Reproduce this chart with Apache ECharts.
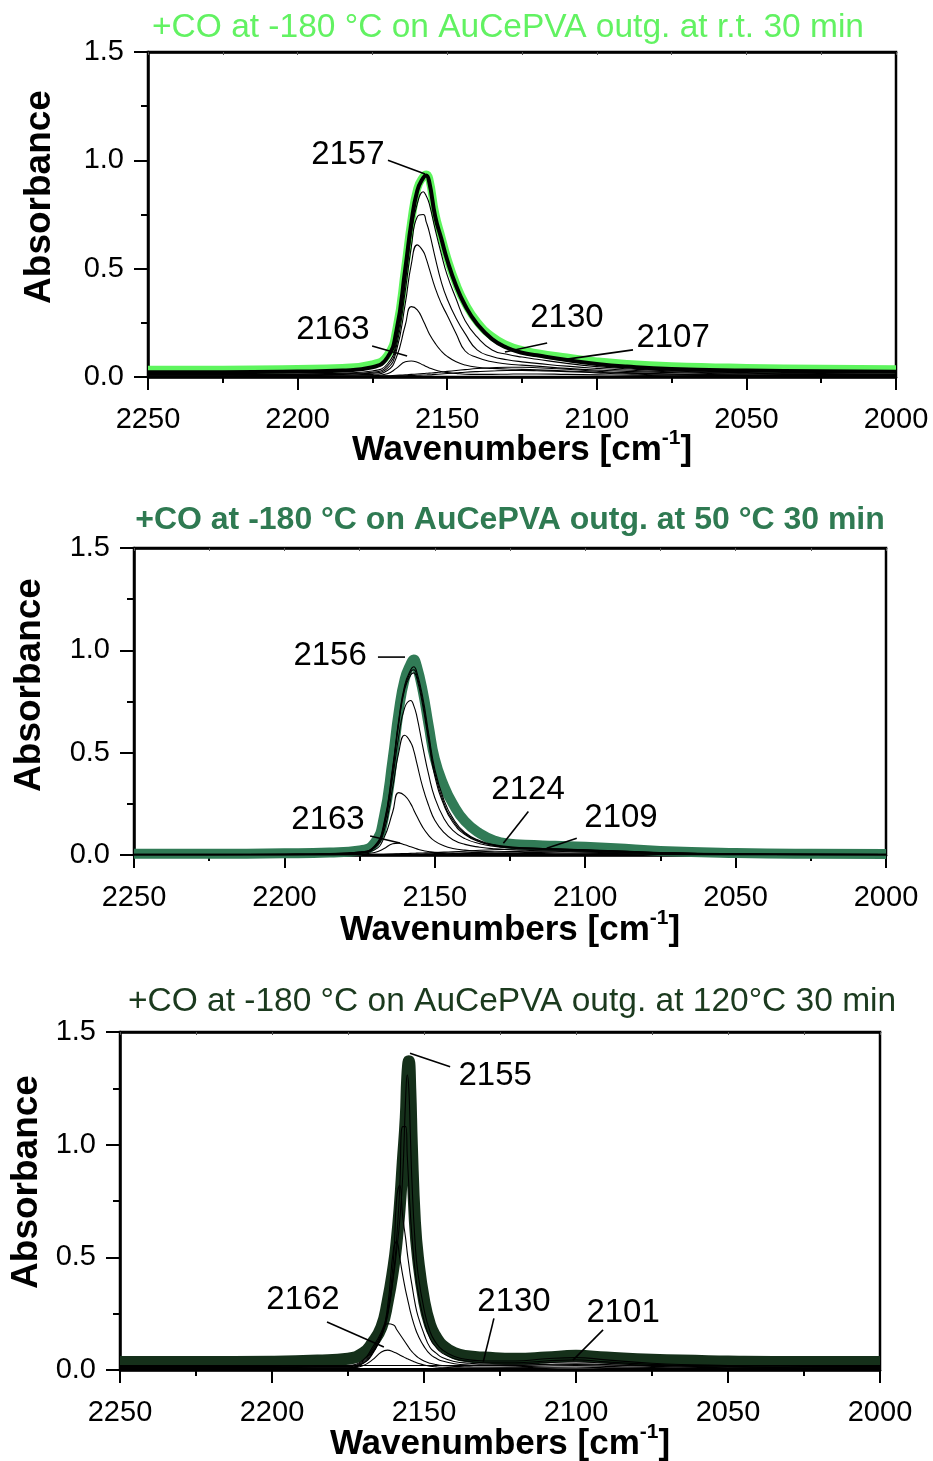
<!DOCTYPE html>
<html>
<head>
<meta charset="utf-8">
<script src="https://cdn.jsdelivr.net/npm/echarts@6.0.0/dist/echarts.min.js"></script>
<style>
html, body { margin: 0; padding: 0; background: #fff; }
#main { width: 933px; height: 1461px; }
</style>
</head>
<body>
<div id="main"></div>
<script>
var FONT = '"Liberation Sans", Arial, sans-serif';

// wavenumber grids (cm-1)
var wn1 = [2250, 2225, 2200, 2185, 2175, 2170, 2167, 2164, 2162, 2160, 2158, 2157, 2156, 2154, 2152, 2150, 2147, 2144, 2140, 2135, 2130, 2125, 2120, 2110, 2100, 2090, 2075, 2050, 2025, 2000];
var wn3 = [2250, 2225, 2200, 2185, 2175, 2170, 2167, 2164, 2162, 2160, 2159, 2158, 2157, 2156, 2155.5, 2155, 2154.5, 2154, 2153, 2152, 2150, 2148, 2146, 2144, 2140, 2135, 2130, 2120, 2110, 2100, 2090, 2075, 2050, 2025, 2000];

// panel 1 : outg. at r.t.
var p1Green = [.034, .034, .037, .042, .058, .10, .22, .51, .72, .87, .925, .935, .915, .755, .65, .55, .43, .34, .255, .187, .147, .124, .11, .09, .072, .06, .05, .042, .038, .036];
var p1Bold = [.022, .022, .025, .03, .045, .09, .21, .50, .71, .86, .92, .93, .90, .74, .64, .54, .42, .33, .245, .175, .135, .112, .1, .078, .06, .048, .037, .03, .026, .024];
var p1A = [.012, .012, .014, .018, .028, .06, .16, .44, .66, .80, .855, .835, .80, .68, .57, .47, .36, .26, .185, .125, .105, .092, .082, .063, .048, .038, .028, .02, .016, .014];
var p1B = [.01, .01, .012, .015, .022, .05, .14, .40, .60, .74, .75, .715, .67, .55, .44, .36, .27, .20, .125, .095, .08, .07, .063, .05, .04, .032, .024, .017, .013, .011];
var p1C = [.009, .009, .01, .012, .018, .04, .12, .34, .52, .61, .58, .545, .50, .41, .34, .285, .20, .12, .09, .07, .06, .055, .05, .04, .032, .026, .02, .014, .011, .01];
var p1D = [.006, .006, .007, .009, .012, .03, .09, .24, .325, .31, .26, .23, .20, .155, .12, .095, .07, .055, .045, .04, .037, .035, .033, .028, .022, .018, .014, .01, .008, .007];
var p1E = [.004, .004, .004, .004, .005, .015, .04, .07, .074, .068, .055, .048, .042, .032, .025, .02, .016, .013, .012, .012, .013, .014, .014, .012, .01, .008, .006, .005, .004, .004];
var p1F = [.003, .003, .003, .004, .005, .006, .008, .01, .012, .014, .016, .017, .018, .02, .023, .026, .03, .034, .039, .043, .045, .045, .043, .036, .027, .02, .013, .008, .006, .005];
var p1G = [.002, .002, .002, .003, .003, .004, .005, .006, .007, .008, .009, .0095, .01, .012, .014, .016, .019, .022, .025, .028, .03, .03, .029, .025, .019, .014, .009, .005, .004, .003];
var p1H = [.001, .001, .001, .001, .001, .001, .001, .001, .001, .001, .001, .001, .001, .001, .001, .001, .001, .001, .001, .001, .001, .001, .001, .001, .001, .001, .001, .001, .001, .001];

// panel 2 : outg. at 50 °C
var p2Green = [.006, .006, .008, .012, .022, .06, .18, .47, .70, .86, .935, .955, .925, .80, .63, .47, .34, .25, .165, .105, .07, .055, .05, .045, .04, .033, .02, .01, .006, .005];
var p2A = [.003, .003, .004, .007, .015, .045, .15, .43, .66, .83, .905, .92, .895, .77, .59, .42, .27, .18, .11, .07, .05, .04, .035, .03, .025, .02, .012, .006, .004, .003];
var p2B = [.003, .003, .004, .006, .014, .042, .14, .42, .65, .82, .895, .905, .88, .75, .57, .40, .255, .17, .105, .066, .048, .038, .034, .029, .024, .019, .011, .005, .004, .003];
var p2C = [.002, .002, .003, .005, .013, .04, .135, .41, .64, .81, .88, .89, .865, .73, .55, .385, .245, .16, .10, .063, .046, .037, .033, .028, .023, .018, .011, .005, .003, .002];
var p2D = [.002, .002, .003, .005, .012, .04, .13, .38, .58, .72, .755, .73, .68, .53, .39, .28, .18, .12, .08, .055, .042, .035, .03, .025, .02, .015, .01, .005, .003, .002];
var p2E = [.002, .002, .002, .004, .01, .035, .11, .33, .50, .585, .55, .51, .45, .33, .24, .17, .11, .075, .052, .038, .03, .026, .023, .018, .014, .011, .007, .004, .002, .002];
var p2F = [.001, .001, .002, .003, .008, .025, .08, .21, .305, .29, .25, .22, .19, .135, .095, .068, .045, .032, .024, .018, .015, .014, .013, .011, .009, .007, .005, .003, .002, .001];
var p2G = [.001, .001, .001, .002, .004, .012, .03, .055, .058, .05, .04, .035, .03, .022, .017, .013, .01, .008, .007, .007, .007, .007, .007, .006, .005, .004, .003, .002, .001, .001];
var p2H = [.001, .001, .001, .002, .002, .003, .004, .005, .006, .007, .008, .0085, .009, .01, .011, .012, .014, .016, .019, .023, .026, .028, .03, .029, .024, .018, .011, .005, .003, .002];
var p2I = [.001, .001, .001, .001, .001, .002, .002, .003, .003, .004, .004, .0045, .005, .005, .006, .007, .008, .009, .011, .013, .015, .017, .018, .02, .018, .014, .009, .004, .002, .001];
var p2J = [0, 0, 0, 0, 0, 0, 0, 0, 0, 0, 0, 0, 0, 0, 0, 0, 0, 0, 0, 0, 0, 0, 0, 0, 0, 0, 0, 0, 0, 0];

// panel 3 : outg. at 120 °C
var p3Bold = [.035, .035, .037, .042, .05, .075, .12, .19, .30, .46, .57, .72, .92, 1.12, 1.3, 1.37, 1.24, 1.0, .66, .5, .31, .2, .145, .11, .075, .06, .055, .05, .055, .063, .055, .045, .038, .035, .035];
var p3A = [.015, .015, .016, .018, .02, .045, .1, .17, .25, .42, .53, .66, .86, 1.22, 1.31, 1.25, 1.05, .85, .58, .43, .27, .17, .12, .09, .06, .045, .04, .04, .05, .055, .045, .03, .02, .016, .015];
var p3B = [.012, .012, .013, .015, .015, .04, .09, .16, .24, .43, .58, .80, 1.08, 1.08, .95, .82, .70, .60, .45, .35, .22, .14, .10, .075, .05, .038, .032, .032, .04, .045, .036, .025, .016, .013, .012];
var p3C = [.01, .01, .011, .012, .012, .035, .08, .15, .25, .50, .76, .82, .68, .58, .52, .47, .42, .38, .30, .24, .16, .10, .075, .055, .038, .03, .026, .026, .032, .036, .03, .02, .013, .01, .01];
var p3D = [.008, .008, .009, .01, .01, .03, .075, .15, .28, .54, .57, .50, .42, .35, .32, .29, .26, .235, .19, .155, .105, .07, .052, .04, .028, .022, .02, .02, .025, .028, .024, .016, .01, .008, .008];
var p3E = [.006, .006, .006, .007, .008, .03, .07, .15, .205, .2, .18, .16, .14, .12, .11, .10, .09, .082, .068, .056, .04, .03, .024, .02, .016, .014, .013, .014, .018, .02, .016, .011, .007, .006, .006];
var p3F = [.004, .004, .004, .004, .005, .02, .045, .08, .088, .08, .074, .067, .06, .053, .05, .047, .044, .041, .035, .03, .022, .017, .014, .012, .01, .009, .009, .01, .012, .013, .01, .007, .005, .004, .004];
var p3G = [.02, .02, .02, .02, .02, .02, .02, .02, .02, .02, .02, .02, .02, .02, .02, .02, .02, .02, .02, .02, .02, .02, .02, .02, .02, .02, .02, .021, .023, .024, .022, .02, .02, .02, .02];
var p3H = [.006, .006, .006, .006, .006, .006, .006, .006, .006, .006, .006, .006, .006, .006, .006, .006, .006, .006, .006, .006, .006, .006, .006, .006, .006, .006, .006, .006, .007, .008, .007, .006, .006, .006, .006];

var titles = [
    '+CO at -180 °C on AuCePVA outg. at r.t. 30 min',
    '+CO at -180 °C on AuCePVA outg. at 50 °C 30 min',
    '+CO at -180 °C on AuCePVA outg. at 120°C 30 min'
];

// peak labels: [text, label x, label y, line from x, y, line to x, y] in data units
var notes1 = [
    ['2157', 2183.2, 1.024, 2169.8, 1.0, 2157.4, 0.937],
    ['2163', 2188.2, 0.217, 2175.1, 0.143, 2163.4, 0.097],
    ['2130', 2110, 0.272, 2116.6, 0.157, 2130.7, 0.115],
    ['2107', 2074.5, 0.18, 2087.9, 0.125, 2112.3, 0.078]
];
var notes2 = [
    ['2156', 2184.8, 0.972, 2168.9, 0.967, 2159.9, 0.967],
    ['2163', 2185.5, 0.171, 2171.5, 0.093, 2161.6, 0.059],
    ['2124', 2119, 0.318, 2118.9, 0.212, 2127.2, 0.057],
    ['2109', 2088.1, 0.181, 2102.8, 0.082, 2112.8, 0.033]
];
var notes3 = [
    ['2155', 2126.6, 1.305, 2141.4, 1.346, 2154.6, 1.406],
    ['2162', 2189.8, 0.311, 2181.9, 0.213, 2163.2, 0.102],
    ['2130', 2120.4, 0.302, 2127, 0.229, 2130.5, 0.037],
    ['2101', 2084.5, 0.253, 2091.1, 0.178, 2101, 0.044]
];

function pairs(xs, ys) {
    return xs.map(function (x, i) { return [x, ys[i]]; });
}

var panels = [
    {
        grid: { left: 148, top: 52, width: 748, height: 325 },
        wn: wn1,
        under: [{ data: p1Green, color: '#5ef55e', width: 8 }],
        thin: [p1H, p1G, p1F, p1E, p1D, p1C, p1B, p1A],
        over: [{ data: p1Bold, color: '#000', width: 4 }],
        title: { text: titles[0], x: 508, y: 28, color: '#62f262', font: '33.5px ' },
        yName: { x: 40, y: 197 },
        xName: { x: 522, y: 448 },
        notes: notes1
    },
    {
        grid: { left: 134, top: 548, width: 752, height: 307 },
        wn: wn1,
        under: [{ data: p2Green, color: '#317b56', width: 10 }],
        thin: [p2J, p2I, p2H, p2G, p2F, p2E, p2D, p2C, p2B, p2A],
        over: [],
        title: { text: titles[1], x: 510, y: 520, color: '#2f7a52', font: 'bold 32px ' },
        yName: { x: 30, y: 685 },
        xName: { x: 510, y: 928 },
        notes: notes2
    },
    {
        grid: { left: 120, top: 1032, width: 760, height: 338 },
        wn: wn3,
        under: [{ data: p3Bold, color: '#15301a', width: 12 }],
        thin: [p3H, p3G, p3F, p3E, p3D, p3C, p3B, p3A],
        over: [],
        title: { text: titles[2], x: 512, y: 1002, color: '#1b3a1e', font: '33.5px ' },
        yName: { x: 27, y: 1182 },
        xName: { x: 500, y: 1442 },
        notes: notes3
    }
];

var chart = echarts.init(document.getElementById('main'), null, { renderer: 'canvas' });

var grids = [], xAxes = [], yAxes = [], series = [], graphics = [];

panels.forEach(function (p, k) {
    grids.push(Object.assign({ show: true, borderColor: '#000', borderWidth: 2.5, backgroundColor: 'transparent' }, p.grid));

    xAxes.push({
        gridIndex: k, type: 'value', min: 2000, max: 2250, interval: 50, inverse: true,
        position: 'bottom',
        axisLine: { onZero: false, lineStyle: { color: '#000', width: 2.5 } },
        axisTick: { length: 13, lineStyle: { color: '#000', width: 2 } },
        minorTick: { show: true, splitNumber: 2, length: 6, lineStyle: { color: '#000', width: 2 } },
        axisLabel: {
            fontSize: 29, color: '#000', fontFamily: FONT, margin: 28, showMinLabel: true, showMaxLabel: true,
            formatter: function (v) { return String(v); }
        },
        splitLine: { show: false }
    });
    yAxes.push({
        gridIndex: k, type: 'value', min: 0, max: 1.5, interval: 0.5,
        axisLine: { show: true, onZero: false, lineStyle: { color: '#000', width: 2.5 } },
        axisTick: { show: true, length: 14, lineStyle: { color: '#000', width: 2 } },
        minorTick: { show: true, splitNumber: 2, length: 7, lineStyle: { color: '#000', width: 2 } },
        axisLabel: {
            fontSize: 29, color: '#000', fontFamily: FONT, margin: 24,
            formatter: function (v) { return v.toFixed(1); }
        },
        splitLine: { show: false }
    });

    p.under.concat(p.thin.map(function (d) { return { data: d, color: '#000', width: 1.1 }; })).concat(p.over)
        .forEach(function (s) {
            series.push({
                type: 'line', xAxisIndex: k, yAxisIndex: k,
                data: pairs(p.wn, s.data),
                showSymbol: false, symbol: 'none',
                smooth: 0.5,
                lineStyle: { color: s.color, width: s.width, join: 'round', cap: 'butt' },
                silent: true, animation: false
            });
        });

    graphics.push({
        type: 'text', x: p.title.x, y: p.title.y,
        style: {
            text: p.title.text, fill: p.title.color, font: p.title.font + FONT,
            align: 'center', verticalAlign: 'middle'
        }
    });
    graphics.push({
        type: 'text', x: p.yName.x, y: p.yName.y, rotation: Math.PI / 2,
        style: {
            text: 'Absorbance', fill: '#000', font: 'bold 37px ' + FONT,
            align: 'center', verticalAlign: 'middle'
        }
    });
    graphics.push({
        type: 'text', x: p.xName.x, y: p.xName.y,
        style: {
            text: '{b|Wavenumbers [cm}{s|-1}{b|]}',
            align: 'center', verticalAlign: 'middle',
            rich: {
                b: { font: 'bold 35px ' + FONT, fill: '#000', lineHeight: 40, verticalAlign: 'bottom' },
                s: { font: 'bold 21px ' + FONT, fill: '#000', lineHeight: 40, verticalAlign: 'top' }
            }
        }
    });
});

// top axes carry the small inward ticks of the frame
panels.forEach(function (p, k) {
    xAxes.push({
        gridIndex: k, type: 'value', min: 2000, max: 2250, interval: 50, inverse: true,
        position: 'top',
        axisLine: { onZero: false, lineStyle: { color: '#000', width: 2.5 } },
        axisTick: { inside: true, length: 3, lineStyle: { color: '#555', width: 1 } },
        minorTick: { show: true, splitNumber: 2, length: 3, lineStyle: { color: '#555', width: 1 } },
        axisLabel: { show: false },
        splitLine: { show: false }
    });
});

chart.setOption({
    backgroundColor: '#fff',
    animation: false,
    grid: grids,
    xAxis: xAxes,
    yAxis: yAxes,
    series: series
});

panels.forEach(function (p, k) {
    var finder = { xAxisIndex: k, yAxisIndex: k };
    p.notes.forEach(function (n) {
        var t = chart.convertToPixel(finder, [n[1], n[2]]);
        var a = chart.convertToPixel(finder, [n[3], n[4]]);
        var b = chart.convertToPixel(finder, [n[5], n[6]]);
        graphics.push({
            type: 'line', shape: { x1: a[0], y1: a[1], x2: b[0], y2: b[1] },
            style: { stroke: '#000', lineWidth: 1.6 }, z: 100
        });
        graphics.push({
            type: 'text', x: t[0], y: t[1], z: 100,
            style: { text: n[0], fill: '#000', font: '33px ' + FONT, align: 'center', verticalAlign: 'middle' }
        });
    });
});

chart.setOption({ graphic: graphics });
</script>
</body>
</html>
